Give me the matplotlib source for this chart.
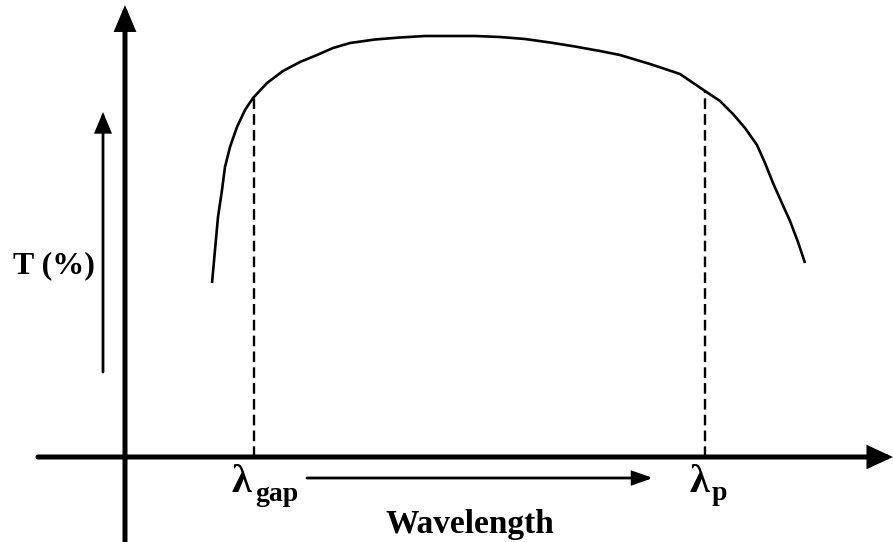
import numpy as np
import matplotlib.pyplot as plt

plt.rcParams['font.family'] = ['Liberation Serif', 'DejaVu Serif']
plt.rcParams['font.weight'] = 'bold'

# transmission curve (arbitrary units, origin at the axes crossing)
wavelength = [87, 90, 93, 97, 100, 105, 112, 120, 128, 142, 158, 175, 192, 208,
              225, 250, 275, 300, 325, 350, 375, 400, 425, 450, 475, 495, 525,
              555, 580, 595, 608, 620, 632, 640, 648, 656, 665, 673, 680]
transmission = [174, 207, 240, 267, 290, 310, 330, 347, 359, 374, 386, 395, 402, 409,
                414, 417.5, 419.5, 421, 421, 421, 420, 418, 414.5, 410.5, 406, 402, 393,
                383, 366, 356, 343, 329, 312, 294, 274, 256, 236, 215, 194]

lam_gap = 129
lam_p = 580

fig = plt.figure(figsize=(8.93, 5.42), dpi=100)
ax = fig.add_axes([0, 0, 1, 1])
ax.set_xlim(-125, 768)
ax.set_ylim(-85, 457)
ax.axis('off')


def arrow(x0, y0, x1, y1, lw, hl, hw):
    ax.annotate('', xy=(x1, y1), xytext=(x0, y0), annotation_clip=False,
                arrowprops=dict(arrowstyle=f'-|>,head_length={hl},head_width={hw}',
                                lw=lw, color='black', shrinkA=0, shrinkB=0,
                                mutation_scale=10, joinstyle='miter'))


# main axes
arrow(0, -90, 0, 452, 3.6, 1.3, 0.55)
arrow(-87, 0, 768, 0, 3.6, 1.3, 0.6)
# direction arrows
arrow(-22, 85, -22, 345, 2.0, 1.2, 0.5)
arrow(182, -21, 528, -21, 2.0, 1.2, 0.42)

ax.plot(wavelength, transmission, color='black', lw=1.9,
        solid_capstyle='butt', solid_joinstyle='round')

for lam in (lam_gap, lam_p):
    top = np.interp(lam, wavelength, transmission)
    ax.plot([lam, lam], [0, top], color='black', lw=1.7, dashes=(4.5, 2.2))

ax.text(-30, 184, 'T (%)', fontsize=23, ha='right', va='baseline')
ax.text(345, -76, 'Wavelength', fontsize=24, ha='center', va='baseline')

ax.text(lam_gap - 22, -35, 'λ', fontsize=29, ha='left', va='baseline')
ax.text(lam_gap + 1, -44, 'gap', fontsize=20, ha='left', va='baseline')
ax.text(lam_p - 15, -35, 'λ', fontsize=29, ha='left', va='baseline')
ax.text(lam_p + 7, -43, 'p', fontsize=20, ha='left', va='baseline')

fig.savefig('out.png', dpi=100)
